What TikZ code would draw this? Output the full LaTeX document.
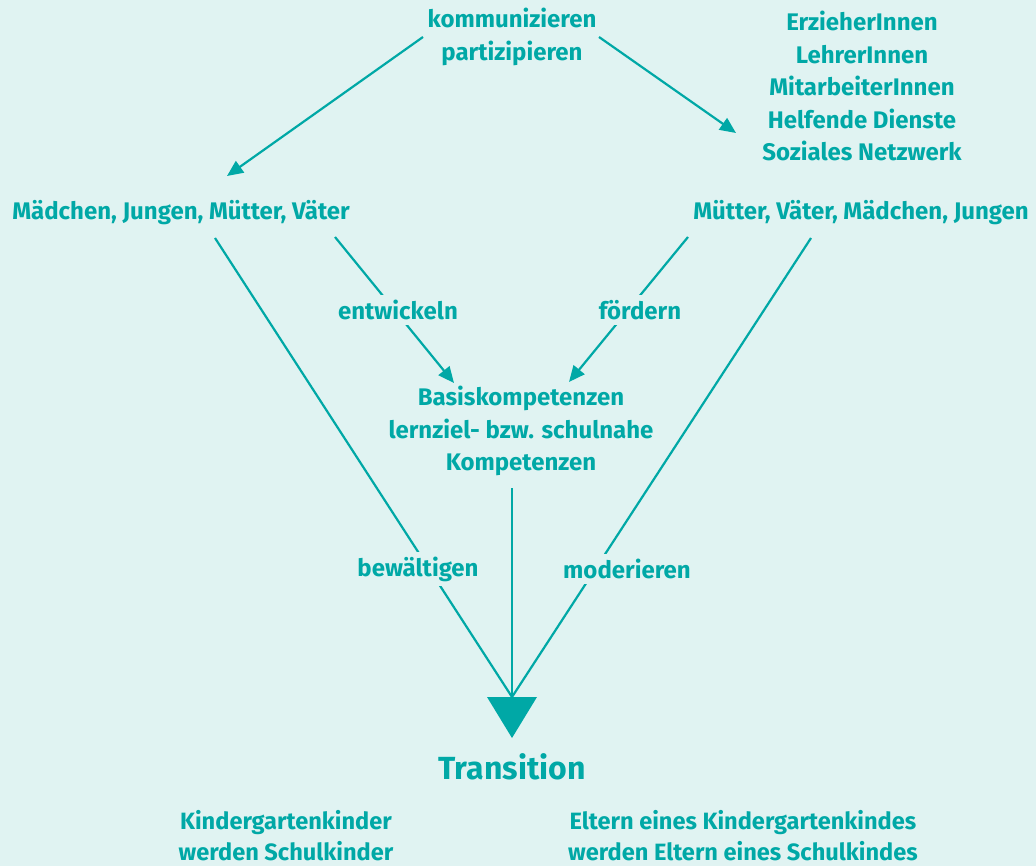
\documentclass[tikz,border=0pt]{standalone}
\usepackage{fontspec}
\setmainfont{Fira Sans}
\usetikzlibrary{arrows.meta}
\definecolor{petrol}{RGB}{0,168,166}
\definecolor{mint}{RGB}{224,243,242}
\tikzset{
  lbl/.style={text=petrol,font=\bfseries\fontsize{24}{32.5}\selectfont,align=center,inner sep=2pt},
  verb/.style={lbl,fill=mint,inner sep=5pt},
  link/.style={petrol,line width=2.2pt},
  push/.style={link,-{Triangle[length=16pt,width=14pt]}},
}
\begin{document}
\begin{tikzpicture}[x=1pt,y=-1pt]
  \useasboundingbox[fill=mint] (0,0) rectangle (1036,866);
  % actors and topics
  \node[lbl] (talk) at (512,37) {kommunizieren\\partizipieren};
  \node[lbl] (staff) at (862,86) {ErzieherInnen\\LehrerInnen\\MitarbeiterInnen\\Helfende Dienste\\Soziales Netzwerk};
  \node[lbl] (kidsL) at (181,213) {Mädchen, Jungen, Mütter, Väter};
  \node[lbl] (kidsR) at (861,213) {Mütter, Väter, Mädchen, Jungen};
  \node[lbl] (comp) at (521,431) {Basiskompetenzen\\lernziel- bzw. schulnahe\\Kompetenzen};
  \node[lbl,font=\bfseries\fontsize{32}{40}\selectfont] (trans) at (512,767) {Transition};
  \node[lbl,font=\bfseries\fontsize{23.6}{31}\selectfont] (childs) at (286,836) {Kindergartenkinder\\werden Schulkinder};
  \node[lbl,font=\bfseries\fontsize{23.6}{31}\selectfont] (parents) at (743,836) {Eltern eines Kindergartenkindes\\werden Eltern eines Schulkindes};
  % line ends
  \coordinate (talkL) at (423,37);
  \coordinate (talkR) at (599,37);
  \coordinate (toL) at (227,176);
  \coordinate (toR) at (736,133);
  \coordinate (outL) at (215,238);
  \coordinate (inL) at (335,237);
  \coordinate (inR) at (688,237);
  \coordinate (outR) at (811,238);
  \coordinate (toCompL) at (454,383);
  \coordinate (toCompR) at (569,382);
  \coordinate (compOut) at (512,488);
  \coordinate (apex) at (512,697);
  % connectors
  \draw[push] (talkL) -- (toL);
  \draw[push] (talkR) -- (toR);
  \draw[push] (inL) -- (toCompL);
  \draw[push] (inR) -- (toCompR);
  \draw[link] (outL) -- (apex);
  \draw[link] (outR) -- (apex);
  \draw[link] (compOut) -- (apex);
  \fill[petrol] (487,697) -- (537,697) -- (512,738) -- cycle;
  % verbs on the lines
  \node[verb] (grow) at (398,310) {entwickeln};
  \node[verb] (help) at (640,310) {fördern};
  \node[verb] (cope) at (418,569) {bewältigen};
  \node[verb] (guide) at (627,569) {moderieren};
\end{tikzpicture}
\end{document}
